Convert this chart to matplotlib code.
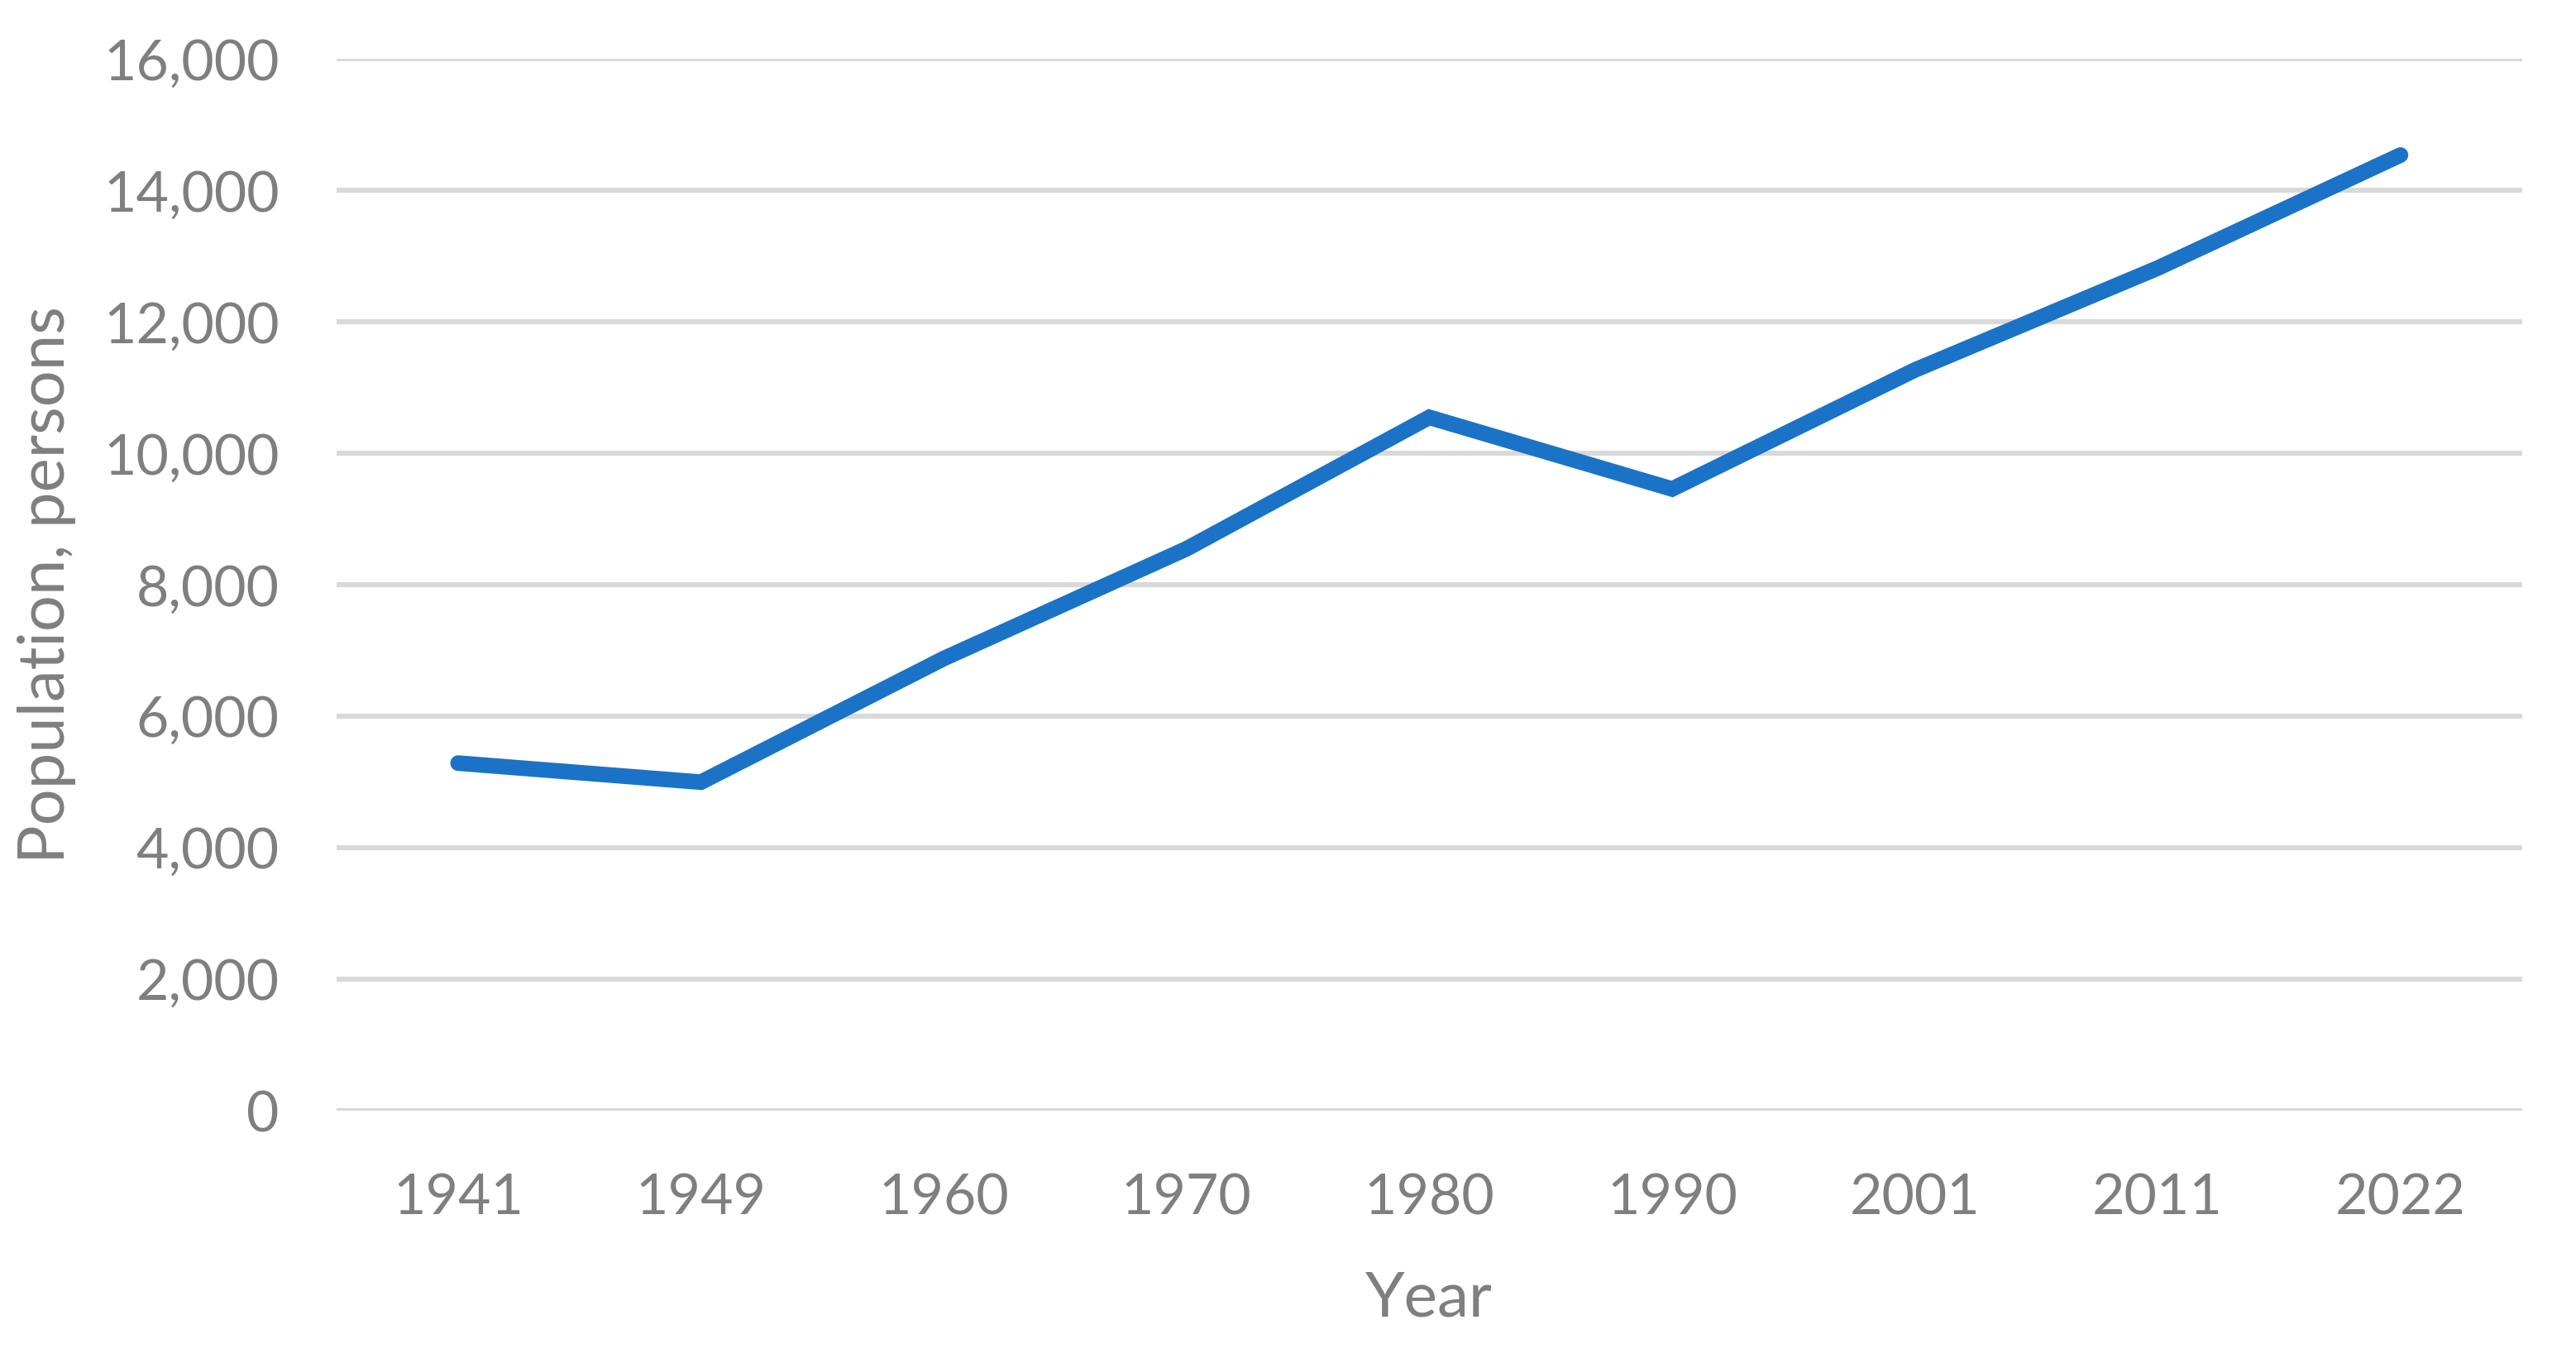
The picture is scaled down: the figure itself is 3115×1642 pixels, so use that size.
import numpy as np
import matplotlib
matplotlib.use("Agg")
import matplotlib.pyplot as plt
from matplotlib.ticker import FuncFormatter

# census years and population counts
years = ['1941', '1949', '1960', '1970', '1980', '1990', '2001', '2011', '2022']
population = [5290, 5000, 6880, 8550, 10550, 9460, 11270, 12820, 14540]
y_ticks = [0, 2000, 4000, 6000, 8000, 10000, 12000, 14000, 16000]

plt.rcParams['font.family'] = ['Lato', 'DejaVu Sans']
text_grey = '#7f7f7f'

fig = plt.figure(figsize=(15.575, 8.21), dpi=200)
ax = fig.add_axes([0.1307, 0.182, 0.979 - 0.1307, 0.9565 - 0.182])

x = np.arange(len(years))
ax.plot(x, population, color='#1a73c6', linewidth=6.8,
        solid_capstyle='round', solid_joinstyle='miter', zorder=3)

ax.set_xlim(-0.5, len(years) - 0.5)
ax.set_ylim(0, 16000)
ax.set_xticks(x)
ax.set_xticklabels(years)
ax.set_yticks(y_ticks)
ax.yaxis.set_major_formatter(FuncFormatter(lambda v, p: '{:,.0f}'.format(v)))

ax.grid(axis='y', color='#d9d9d9', linewidth=2.2)
ax.set_axisbelow(True)
for s in ax.spines.values():
    s.set_visible(False)
ax.tick_params(length=0, labelsize=24.5, colors=text_grey)
ax.tick_params(axis='y', pad=25)
ax.tick_params(axis='x', pad=27)

ax.set_xlabel('Year', fontsize=27.5, color=text_grey, labelpad=20)
ax.set_ylabel('Population, persons', fontsize=28, color=text_grey, labelpad=12)

fig.savefig('out.png', dpi=200, facecolor='white')
